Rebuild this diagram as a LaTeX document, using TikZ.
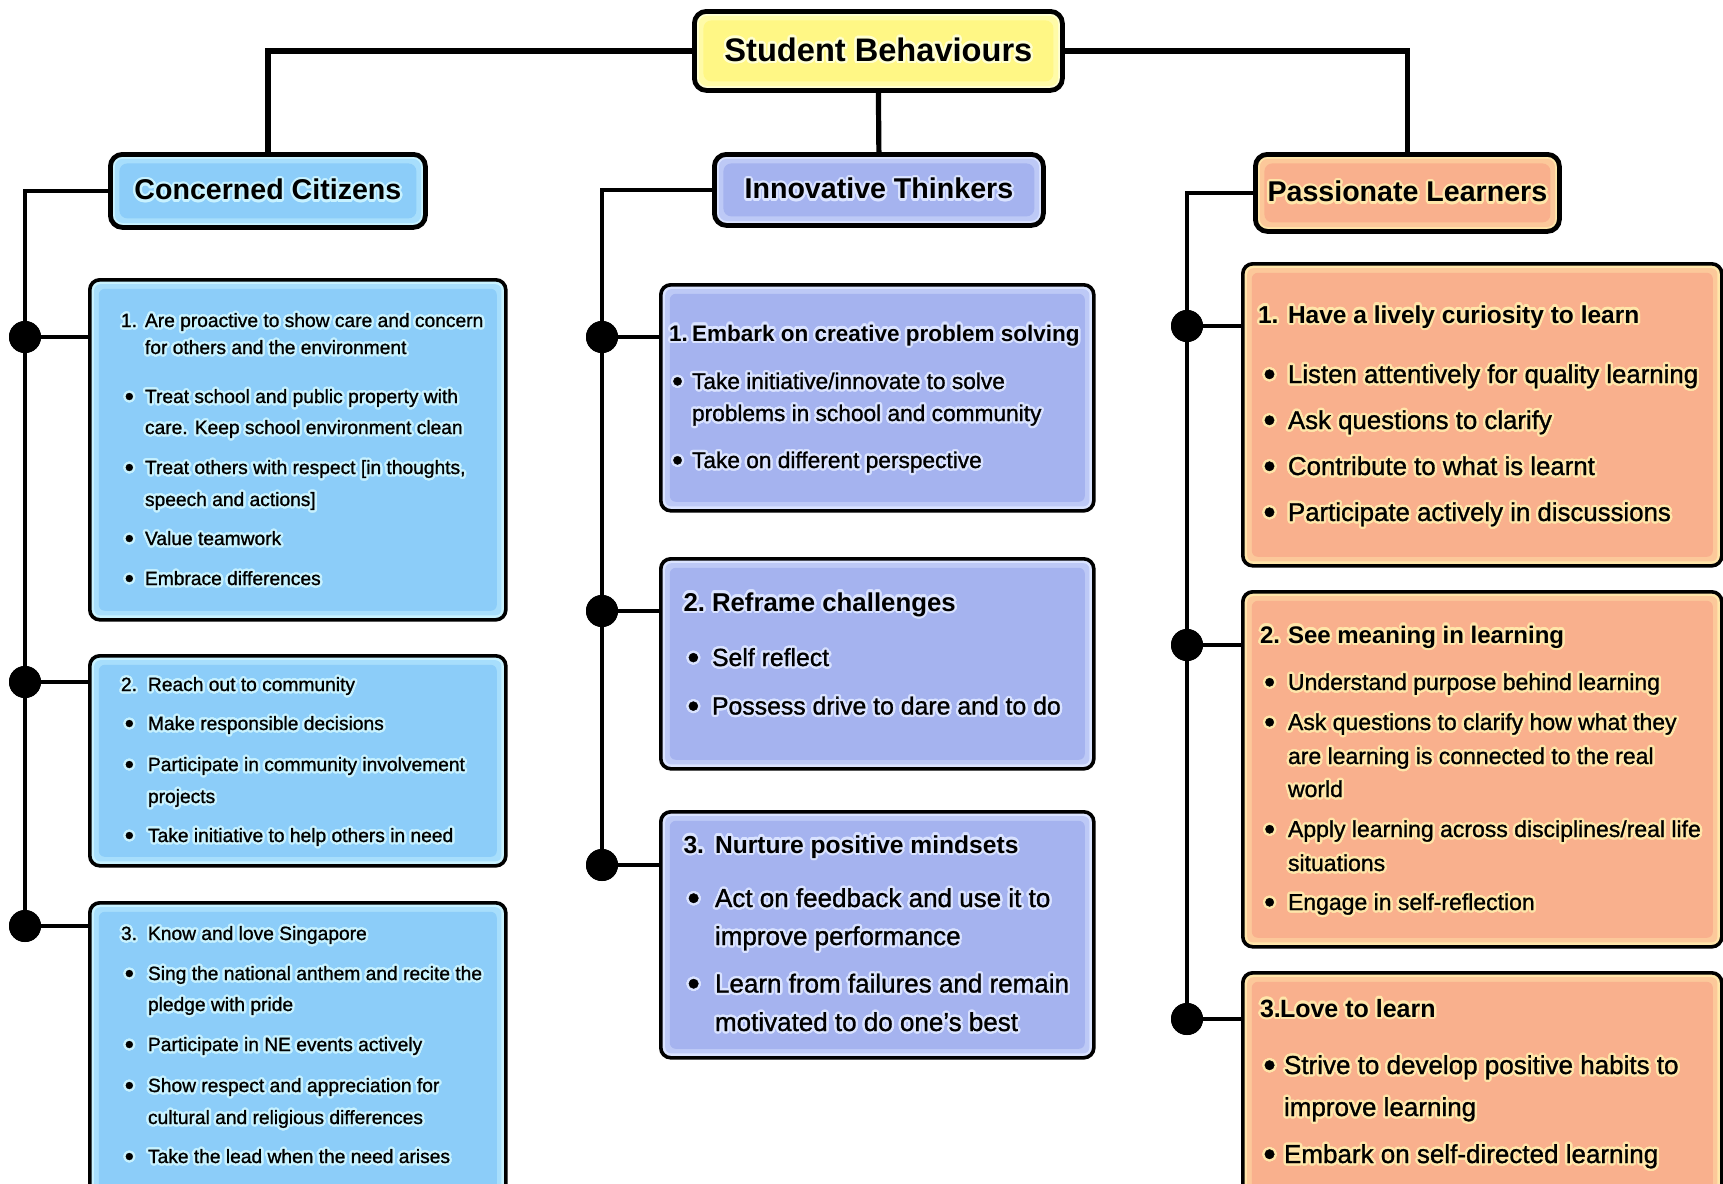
\documentclass[tikz,border=0pt]{standalone}
\usepackage{fontspec}
\setmainfont{Liberation Sans}
\newfontfamily\bodyf[FakeBold=1.1]{Liberation Sans}
\usepackage[copies]{contour}
\contourlength{1.2pt}
\contournumber{16}

\definecolor{cbfill}{HTML}{8CCDF9}
\definecolor{cbglow}{HTML}{C8F2FF}
\definecolor{itfill}{HTML}{A5B3EF}
\definecolor{itglow}{HTML}{DAE3FF}
\definecolor{plfill}{HTML}{F9B08D}
\definecolor{plglow}{HTML}{FFE6AA}
\definecolor{sbfill}{HTML}{FFF785}
\definecolor{sbglow}{HTML}{FFFFD2}

\newdimen\hind \newdimen\tind \newdimen\bind
\def\glow{white}
\def\hfnt{}\def\bfnt{}
\newcommand\setup[6]{\def\glow{#1}\def\hfnt{#2}\def\bfnt{#3}\hind=#4\relax\tind=#5\relax\bind=#6\relax
  \baselineskip=0pt\lineskip=0pt\lineskiplimit=-\maxdimen}
\newcommand\bigbul{\raisebox{-0.11em}{\scalebox{1.35}{\textbullet}}}
\newcommand\NUM[2]{\hbox{\hbox to\hind{\contour{\glow}{\hfnt #1}\hfil}\contour{\glow}{\hfnt #2}}}
\newcommand\HCON[1]{\hbox{\hskip\hind\contour{\glow}{\hfnt #1}}}
\newcommand\BUL[1]{\hbox{\hbox to\tind{\hskip\bind\contour{\glow}{\bfnt\bigbul}\hfil}\contour{\glow}{\bfnt #1}}}
\newcommand\CON[1]{\hbox{\hskip\tind\contour{\glow}{\bfnt #1}}}
\newcommand\G[1]{\vskip#1\relax}

\tikzset{
  glowfill/.style n args={3}{fill=#2, path picture={
      \fill[#1!55!#2, rounded corners=#3] ([shift={(2.2pt,-2.2pt)}]path picture bounding box.north west) rectangle ([shift={(-2.2pt,2.2pt)}]path picture bounding box.south east);
      \fill[#1, rounded corners=#3] ([shift={(4.5pt,-4.5pt)}]path picture bounding box.north west) rectangle ([shift={(-4.5pt,4.5pt)}]path picture bounding box.south east);
    }},
  hdr/.style n args={2}{draw=black, line width=2.4pt, rounded corners=6pt, glowfill={#1}{#2}{4pt},
    inner sep=0pt, anchor=north west, font=\bfseries\fontsize{14.3}{14.3}\selectfont},
  panel/.style n args={2}{draw=black, line width=1.8pt, rounded corners=5pt, glowfill={#1}{#2}{3pt},
    inner sep=0pt, anchor=north west},
  topline/.style={draw=black, line width=2.6pt},
  spine/.style={draw=black, line width=1.7pt},
  dot/.style={circle, fill=black, minimum size=16pt, inner sep=0pt},
  txt/.style={anchor=base west, inner sep=0pt, outer sep=0pt}
}

\begin{document}
\begin{tikzpicture}[x=0.5pt, y=-0.5pt]
\useasboundingbox (0,0) rectangle (1723,1183);
\clip (0,0) rectangle (1723,1183);
\fill[white] (0,0) rectangle (1723,1183);

% ---------- header boxes
\node[hdr={sbfill}{sbglow}, minimum width={(1060-692)*0.5pt}, minimum height={(88-9)*0.5pt},
      font=\bfseries\fontsize{16.3}{16.3}\selectfont] (sb) at (692,9) {\contour{sbglow}{Student Behaviours}};
\node[hdr={cbfill}{cbglow}, minimum width={(423-108)*0.5pt}, minimum height={(225-152)*0.5pt}] (cc) at (108,152) {\contour{cbglow}{Concerned Citizens}};
\node[hdr={itfill}{itglow}, minimum width={(1041-712)*0.5pt}, minimum height={(223-152)*0.5pt}] (it) at (712,152) {\contour{itglow}{Innovative Thinkers}};
\node[hdr={plfill}{plglow}, minimum width={(1557-1253)*0.5pt}, minimum height={(229-152)*0.5pt}] (pl) at (1253,152) {\contour{plglow}{Passionate Learners}};

% ---------- panels
\node[panel={cbfill}{cbglow}, minimum width={(504-88)*0.5pt}, minimum height={(618-278)*0.5pt}] (lb1) at (88,278) {};
\node[panel={cbfill}{cbglow}, minimum width={(504-88)*0.5pt}, minimum height={(864-654)*0.5pt}] (lb2) at (88,654) {};
\node[panel={cbfill}{cbglow}, minimum width={(504-88)*0.5pt}, minimum height={(1220-901)*0.5pt}] (lb3) at (88,901) {};

\node[panel={itfill}{itglow}, minimum width={(1092-659)*0.5pt}, minimum height={(509-283)*0.5pt}] (mb1) at (659,283) {};
\node[panel={itfill}{itglow}, minimum width={(1092-659)*0.5pt}, minimum height={(767-557)*0.5pt}] (mb2) at (659,557) {};
\node[panel={itfill}{itglow}, minimum width={(1092-659)*0.5pt}, minimum height={(1056-810)*0.5pt}] (mb3) at (659,810) {};

\node[panel={plfill}{plglow}, minimum width={(1720-1241)*0.5pt}, minimum height={(564-262)*0.5pt}] (rb1) at (1241,262) {};
\node[panel={plfill}{plglow}, minimum width={(1720-1241)*0.5pt}, minimum height={(945-590)*0.5pt}] (rb2) at (1241,590) {};
\node[panel={plfill}{plglow}, minimum width={(1720-1241)*0.5pt}, minimum height={(1220-971)*0.5pt}] (rb3) at (1241,971) {};

% ---------- dots
\node[dot] (ld1) at (25,337) {};
\node[dot] (ld2) at (25,682) {};
\node[dot] (ld3) at (25,926) {};
\node[dot] (md1) at (602,337) {};
\node[dot] (md2) at (602,611) {};
\node[dot] (md3) at (602,865) {};
\node[dot] (rd1) at (1187,326) {};
\node[dot] (rd2) at (1187,645) {};
\node[dot] (rd3) at (1187,1019) {};

% ---------- connectors
\draw[topline] (sb.west) -| (cc.north);
\draw[topline] (sb.east) -| (pl.north);
\draw[topline] (sb.south) -- (it.north);

\draw[spine] (cc.west) -| (ld3.center);
\draw[spine] (it.west) -| (md3.center);
\draw[spine] (pl.west) -| (rd3.center);
\foreach \d/\b in {ld1/lb1, ld2/lb2, ld3/lb3, md1/mb1, md2/mb2, md3/mb3, rd1/rb1, rd2/rb2, rd3/rb3}{
  \draw[spine] (\d.center) -- (\d.center -| \b.west);
}
% redraw dots on top
\foreach \d in {ld1,ld2,ld3,md1,md2,md3,rd1,rd2,rd3}{
  \fill[black] (\d.center) circle[radius=8pt];
}

% ---------- left column texts
\node[txt] (lt1) at (121,327) {\vtop{\setup{cbglow}{\bodyf\fontsize{9.6}{9.6}\selectfont}{\bodyf\fontsize{9.6}{9.6}\selectfont}{12pt}{12pt}{1.9pt}
  \NUM{1.}{Are proactive to show care and concern}
  \G{13.5pt}\HCON{for others and the environment}
  \G{24.5pt}\BUL{Treat school and public property with}
  \G{15.5pt}\CON{care. Keep school environment clean}
  \G{20pt}\BUL{Treat others with respect [in thoughts,}
  \G{16pt}\CON{speech and actions]}
  \G{19.5pt}\BUL{Value teamwork}
  \G{20pt}\BUL{Embrace differences}}};

\node[txt] (lt2) at (121,691) {\vtop{\setup{cbglow}{\bodyf\fontsize{9.6}{9.6}\selectfont}{\bodyf\fontsize{9.6}{9.6}\selectfont}{13.5pt}{13.5pt}{1.9pt}
  \NUM{2.}{Reach out to community}
  \G{19.5pt}\BUL{Make responsible decisions}
  \G{20.5pt}\BUL{Participate in community involvement}
  \G{16pt}\CON{projects}
  \G{19.5pt}\BUL{Take initiative to help others in need}}};

\node[txt] (lt3) at (121,940) {\vtop{\setup{cbglow}{\bodyf\fontsize{9.6}{9.6}\selectfont}{\bodyf\fontsize{9.6}{9.6}\selectfont}{13.5pt}{13.5pt}{1.9pt}
  \NUM{3.}{Know and love Singapore}
  \G{20pt}\BUL{Sing the national anthem and recite the}
  \G{15.5pt}\CON{pledge with pride}
  \G{20pt}\BUL{Participate in NE events actively}
  \G{20.5pt}\BUL{Show respect and appreciation for}
  \G{16pt}\CON{cultural and religious differences}
  \G{19.5pt}\BUL{Take the lead when the need arises}}};

% ---------- middle column texts
\node[txt] (mt1) at (669,341) {\vtop{\setup{itglow}{\bfseries\fontsize{11.25}{11.25}\selectfont}{\bodyf\fontsize{11.35}{11.35}\selectfont}{11.5pt}{11.5pt}{1.6pt}
  \NUM{1.}{Embark on creative problem solving}
  \G{24pt}\BUL{Take initiative/innovate to solve}
  \G{16pt}\CON{problems in school and community}
  \G{23.5pt}\BUL{Take on different perspective}}};

\node[txt] (mt2) at (683.5,611) {\vtop{\setup{itglow}{\bfseries\fontsize{12.9}{12.9}\selectfont}{\bodyf\fontsize{12.4}{12.4}\selectfont}{14.25pt}{14.25pt}{2pt}
  \NUM{2.}{Reframe challenges}
  \G{27.5pt}\BUL{Self reflect}
  \G{24.25pt}\BUL{Possess drive to dare and to do}}};

\node[txt] (mt3) at (683.5,853) {\vtop{\setup{itglow}{\bfseries\fontsize{12.3}{12.3}\selectfont}{\bodyf\fontsize{13}{13}\selectfont}{15.75pt}{15.75pt}{2pt}
  \NUM{3.}{Nurture positive mindsets}
  \G{27pt}\BUL{Act on feedback and use it to}
  \G{19pt}\CON{improve performance}
  \G{23.75pt}\BUL{Learn from failures and remain}
  \G{19.25pt}\CON{motivated to do one’s best}}};

% ---------- right column texts
\node[txt] (rt1) at (1258,323) {\vtop{\setup{plglow}{\bfseries\fontsize{12.25}{12.25}\selectfont}{\bodyf\fontsize{12.9}{12.9}\selectfont}{15pt}{15pt}{2.7pt}
  \NUM{1.}{Have a lively curiosity to learn}
  \G{30pt}\BUL{Listen attentively for quality learning}
  \G{23pt}\BUL{Ask questions to clarify}
  \G{23pt}\BUL{Contribute to what is learnt}
  \G{23pt}\BUL{Participate actively in discussions}}};

\node[txt] (rt2) at (1260,643) {\vtop{\setup{plglow}{\bfseries\fontsize{12}{12}\selectfont}{\bodyf\fontsize{11.5}{11.5}\selectfont}{14pt}{14pt}{2.1pt}
  \NUM{2.}{See meaning in learning}
  \G{23.5pt}\BUL{Understand purpose behind learning}
  \G{20pt}\BUL{Ask questions to clarify how what they}
  \G{17pt}\CON{are learning is connected to the real}
  \G{16.5pt}\CON{world}
  \G{20pt}\BUL{Apply learning across disciplines/real life}
  \G{17pt}\CON{situations}
  \G{19.5pt}\BUL{Engage in self-reflection}}};

\node[txt] (rt3) at (1260,1017) {\vtop{\setup{plglow}{\bfseries\fontsize{12.5}{12.5}\selectfont}{\bodyf\fontsize{13}{13}\selectfont}{10pt}{12pt}{1.7pt}
  \NUM{3.}{Love to learn}
  \G{28.5pt}\BUL{Strive to develop positive habits to}
  \G{21pt}\CON{improve learning}
  \G{23.5pt}\BUL{Embark on self-directed learning}}};
\end{tikzpicture}
\end{document}
